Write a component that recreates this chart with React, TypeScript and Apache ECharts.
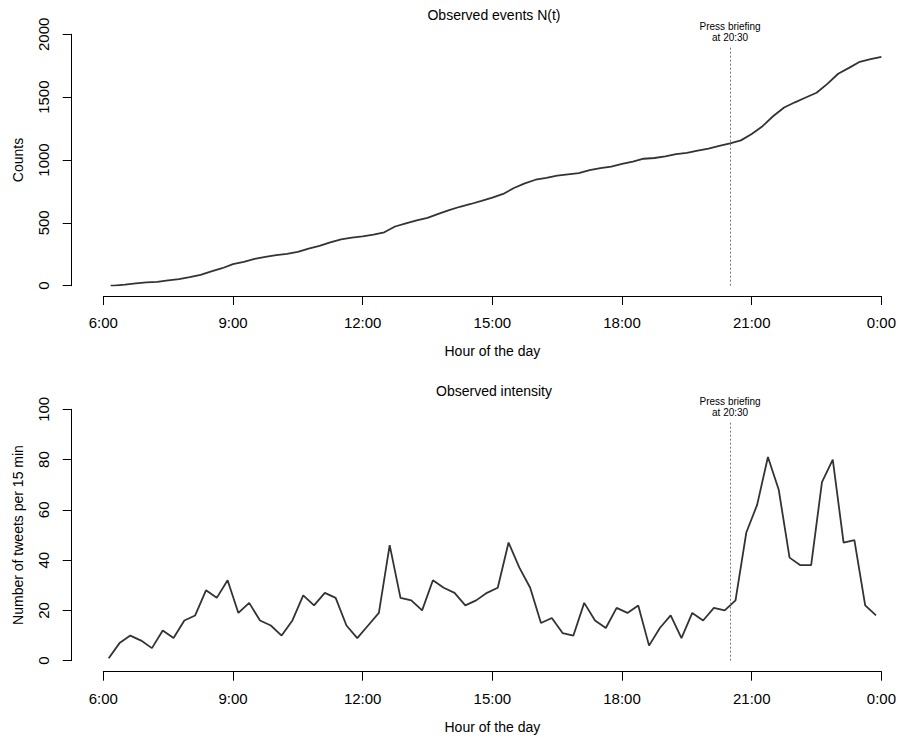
import React, { useEffect, useRef } from "react";
import * as echarts from "echarts";

// 15-minute bins from 6:00 to 24:00 (bin midpoints)
const binStartHour = 6;
const binWidthHours = 0.25;
const tweetsPer15Min = [
  1, 7, 10, 8, 5, 12, 9, 16, 18, 28,
  25, 32, 19, 23, 16, 14, 10, 16, 26, 22,
  27, 25, 14, 9, 14, 19, 46, 25, 24, 20,
  32, 29, 27, 22, 24, 27, 29, 47, 37, 29,
  15, 17, 11, 10, 23, 16, 13, 21, 19, 22,
  6, 13, 18, 9, 19, 16, 21, 20, 24, 51,
  62, 81, 68, 41, 38, 38, 71, 80, 47, 48,
  22, 18,
];

// observed cumulative counts N(t): first event time, then every 15-min boundary
const firstEventHour = 6.17;
const cumulativeCounts = [
  0, 1, 8, 18, 26, 31, 43, 52, 68, 86, 114,
  139, 171, 190, 213, 229, 243, 253, 269, 295, 317,
  344, 369, 383, 392, 406, 425, 471, 496, 520, 540,
  572, 601, 628, 650, 674, 701, 730, 777, 814, 843,
  858, 875, 886, 896, 919, 935, 948, 969, 988, 1010,
  1016, 1029, 1047, 1056, 1075, 1091, 1112, 1132, 1156, 1207,
  1269, 1350, 1418, 1459, 1497, 1535, 1606, 1686, 1733, 1781,
  1803, 1821,
];

const briefingHour = 20.5;
const briefingLabel = "Press briefing\nat 20:30";
const briefingTopCounts = 1900;
const briefingTopIntensity = 95;

const topTitle = "Observed events N(t)";
const bottomTitle = "Observed intensity";
const xName = "Hour of the day";
const topYName = "Counts";
const bottomYName = "Number of tweets per 15 min";

const FONT = "Liberation Sans, Arial, Helvetica, sans-serif";

export default function App() {
  const ref = useRef<HTMLDivElement>(null);

  useEffect(() => {
    document.body.style.margin = "0";
    if (!ref.current) return;
    const chart = echarts.init(ref.current, null, { renderer: "svg" });

    const intensityData = tweetsPer15Min.map((v, i) => [
      binStartHour + binWidthHours * (i + 0.5),
      v,
    ]);
    const countData = cumulativeCounts.map((v, i) => [
      i === 0 ? firstEventHour : binStartHour + binWidthHours * i,
      v,
    ]);

    const gridLeft = 103.3;
    const gridRight = 15;
    const gridH = 251.4;

    const xAxisBase = (gridIndex: number, offset: number) => ({
      type: "value",
      gridIndex,
      min: 6,
      max: 24,
      interval: 3,
      offset,
      name: xName,
      nameLocation: "middle",
      nameGap: 48,
      nameTextStyle: { fontSize: 14, color: "#000", fontFamily: FONT },
      axisLine: { show: true, onZero: false, lineStyle: { color: "#000", width: 1 } },
      axisTick: { show: true, length: 9, lineStyle: { color: "#000", width: 1 } },
      axisLabel: {
        fontSize: 15,
        color: "#000",
        fontFamily: FONT,
        margin: 19,
        formatter: (v: number) => `${v % 24}:00`,
      },
      splitLine: { show: false },
    });

    const yAxisBase = (gridIndex: number, max: number, interval: number, name: string) => ({
      type: "value",
      gridIndex,
      min: 0,
      max,
      interval,
      offset: 31.6,
      name,
      nameLocation: "middle",
      nameRotate: 90,
      nameGap: 47,
      nameTextStyle: { fontSize: 14, color: "#000", fontFamily: FONT },
      axisLine: { show: true, onZero: false, lineStyle: { color: "#000", width: 1 } },
      axisTick: { show: true, length: 9, lineStyle: { color: "#000", width: 1 } },
      axisLabel: {
        fontSize: 15,
        color: "#000",
        fontFamily: FONT,
        rotate: 90,
        margin: 21,
        formatter: (v: number) => String(v),
      },
      splitLine: { show: false },
    });

    const markLineFor = (top: number) => ({
      silent: true,
      symbol: "none",
      animation: false,
      lineStyle: { type: [2, 2], color: "#777", width: 1 },
      label: {
        show: true,
        position: "end",
        formatter: briefingLabel,
        fontSize: 10,
        lineHeight: 11,
        color: "#000",
        fontFamily: FONT,
        distance: 4,
      },
      data: [[{ coord: [briefingHour, 0] }, { coord: [briefingHour, top] }]],
    });

    chart.setOption({
      animation: false,
      backgroundColor: "#fff",
      textStyle: { fontFamily: FONT },
      grid: [
        { left: gridLeft, right: gridRight, top: 34.3, height: gridH },
        { left: gridLeft, right: gridRight, top: 409.3, height: gridH },
      ],
      xAxis: [xAxisBase(0, 10.3), xAxisBase(1, 11)],
      yAxis: [
        yAxisBase(0, 2000, 500, topYName),
        yAxisBase(1, 100, 20, bottomYName),
      ],
      graphic: [
        {
          type: "text",
          x: 494,
          y: 15,
          style: {
            text: topTitle,
            fontSize: 14,
            fill: "#000",
            fontFamily: FONT,
            textAlign: "center",
            textVerticalAlign: "middle",
          },
        },
        {
          type: "text",
          x: 494,
          y: 390.7,
          style: {
            text: bottomTitle,
            fontSize: 14,
            fill: "#000",
            fontFamily: FONT,
            textAlign: "center",
            textVerticalAlign: "middle",
          },
        },
      ],
      series: [
        {
          type: "line",
          xAxisIndex: 0,
          yAxisIndex: 0,
          data: countData,
          showSymbol: false,
          symbol: "none",
          lineStyle: { color: "#333", width: 1.8 },
          markLine: markLineFor(briefingTopCounts),
        },
        {
          type: "line",
          xAxisIndex: 1,
          yAxisIndex: 1,
          data: intensityData,
          showSymbol: false,
          symbol: "none",
          lineStyle: { color: "#333", width: 1.8 },
          markLine: markLineFor(briefingTopIntensity),
        },
      ],
    });

    return () => chart.dispose();
  }, []);

  return <div ref={ref} style={{ width: 899, height: 737 }} />;
}
